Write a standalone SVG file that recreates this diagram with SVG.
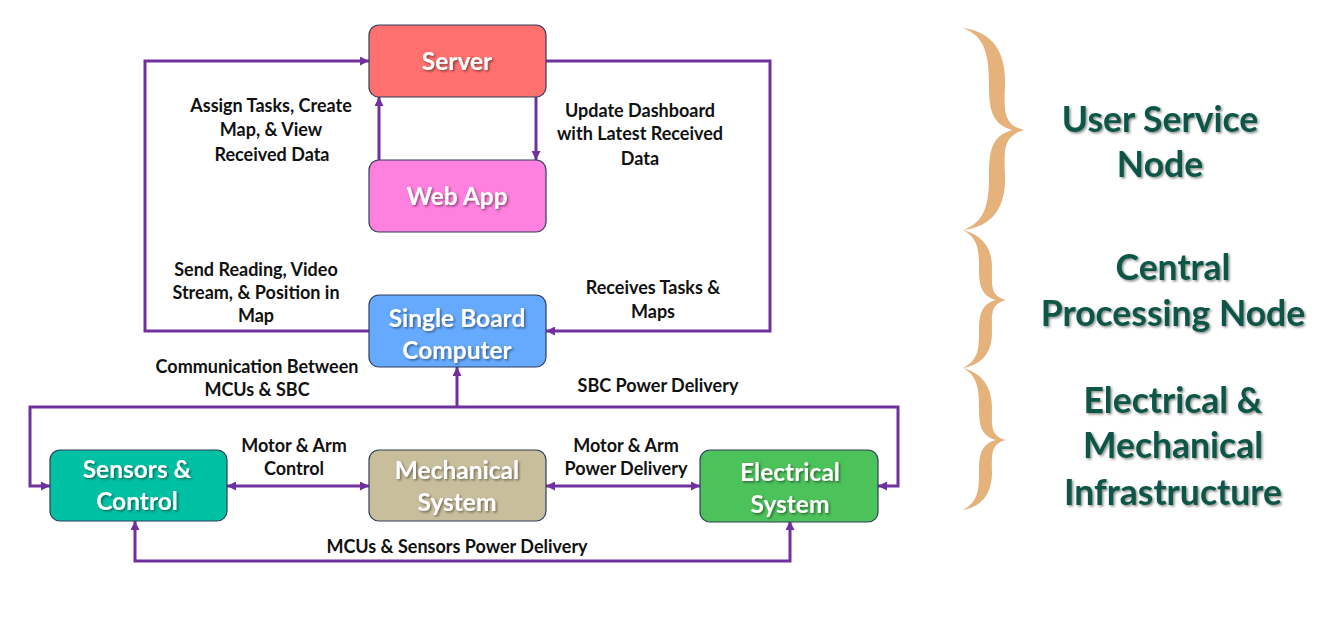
<svg xmlns="http://www.w3.org/2000/svg" width="1321" height="620" viewBox="0 0 1321 620">
<style>
.box{stroke:#2E3F5C;stroke-width:1.2}
.bt{font-family:Lato,"Open Sans",sans-serif;font-weight:bold;font-size:24.5px;fill:#fff;text-anchor:middle}
.lb{font-family:Lato,"Open Sans",sans-serif;font-weight:bold;font-size:18px;fill:#111;text-anchor:middle}
.side{font-family:Lato,"Open Sans",sans-serif;font-weight:bold;font-size:35.5px;fill:#0D5446;text-anchor:middle}
.cn{fill:none;stroke:#7030A0;stroke-width:3}
.brace{fill:#E6B27C}
</style>
<defs>
<marker id="ah" viewBox="0 0 10 10" refX="10" refY="5" markerWidth="9" markerHeight="9" markerUnits="userSpaceOnUse" orient="auto-start-reverse">
<path d="M0,0 L10,5 L0,10 Z" fill="#7030A0"/>
</marker>
<filter id="sh" x="-10%" y="-20%" width="130%" height="150%">
<feDropShadow dx="1.5" dy="1.5" stdDeviation="1" flood-color="#000" flood-opacity="0.45"/>
</filter>
</defs>
<rect width="1321" height="620" fill="#fff"/>

<g id="connectors">
<path class="cn" d="M379,160 L379,97" marker-end="url(#ah)"/>
<path class="cn" d="M536,97 L536,160" marker-end="url(#ah)"/>
<path class="cn" d="M369,331 L145,331 L145,61 L369,61" marker-end="url(#ah)"/>
<path class="cn" d="M546,61 L770,61 L770,331 L546,331" marker-end="url(#ah)"/>
<path class="cn" d="M457,407 L457,367" marker-end="url(#ah)"/>
<path class="cn" d="M457,407 L30,407 L30,486 L50,486" marker-end="url(#ah)"/>
<path class="cn" d="M457,407 L898,407 L898,486 L878,486" marker-end="url(#ah)"/>
<path class="cn" d="M227,486 L369,486" marker-start="url(#ah)" marker-end="url(#ah)"/>
<path class="cn" d="M546,486 L700,486" marker-start="url(#ah)" marker-end="url(#ah)"/>
<path class="cn" d="M135,521 L135,561 L790,561 L790,521" marker-start="url(#ah)" marker-end="url(#ah)"/>
</g>

<g id="labels">
<text class="lb" x="271" y="112">Assign Tasks, Create</text>
<text class="lb" x="271" y="136">Map, &amp; View</text>
<text class="lb" x="272" y="161">Received Data</text>
<text class="lb" x="640" y="117">Update Dashboard</text>
<text class="lb" x="640" y="140">with Latest Received</text>
<text class="lb" x="640" y="165">Data</text>
<text class="lb" x="256" y="276">Send Reading, Video</text>
<text class="lb" x="256" y="299">Stream, &amp; Position in</text>
<text class="lb" x="256" y="322">Map</text>
<text class="lb" x="653" y="294">Receives Tasks &amp;</text>
<text class="lb" x="653" y="318">Maps</text>
<text class="lb" x="257" y="373">Communication Between</text>
<text class="lb" x="257" y="396">MCUs &amp; SBC</text>
<text class="lb" x="658" y="392">SBC Power Delivery</text>
<text class="lb" x="294" y="452">Motor &amp; Arm</text>
<text class="lb" x="294" y="475">Control</text>
<text class="lb" x="626" y="452">Motor &amp; Arm</text>
<text class="lb" x="626" y="475">Power Delivery</text>
<text class="lb" x="457" y="553">MCUs &amp; Sensors Power Delivery</text>
</g>

<g id="server">
<rect class="box" x="369" y="25" width="177" height="72" rx="10" fill="#FF706E"/>
<text class="bt" x="457" y="70" filter="url(#sh)">Server</text>
</g>
<g id="webapp">
<rect class="box" x="369" y="160" width="177" height="72" rx="10" fill="#FF80DF"/>
<text class="bt" x="457" y="205" filter="url(#sh)">Web App</text>
</g>
<g id="sbc">
<rect class="box" x="369" y="295" width="177" height="72" rx="10" fill="#66AAFF"/>
<text class="bt" x="457" y="327" filter="url(#sh)">Single Board</text>
<text class="bt" x="457" y="359" filter="url(#sh)">Computer</text>
</g>
<g id="sensors">
<rect class="box" x="50" y="450" width="177" height="71" rx="10" fill="#00C0A3"/>
<text class="bt" x="137" y="478" filter="url(#sh)">Sensors &amp;</text>
<text class="bt" x="137" y="510" filter="url(#sh)">Control</text>
</g>
<g id="mechanical">
<rect class="box" x="369" y="450" width="177" height="71" rx="10" fill="#C9BE9C"/>
<text class="bt" x="457" y="479" filter="url(#sh)">Mechanical</text>
<text class="bt" x="457" y="511" filter="url(#sh)">System</text>
</g>
<g id="electrical">
<rect class="box" x="700" y="450" width="178" height="72" rx="10" fill="#4CC25A"/>
<text class="bt" x="790" y="481" filter="url(#sh)">Electrical</text>
<text class="bt" x="790" y="513" filter="url(#sh)">System</text>
</g>

<g id="braces">
<path class="brace" d="M963,28 C995,32 1006,55 1005,85 C1004,110 1003,125 1024,130 C1003,136 1004,150 1005,175 C1006,205 995,226 963,230 C985,222 989,205 989,175 C989,150 992,136 1012,130 C992,124 989,110 989,85 C989,55 985,36 963,28 Z"/>
<path class="brace" d="M963,230 C985,236 992,250 992,268 C992,285 990,296 1006,300 C990,304 992,315 992,332 C992,350 985,364 963,368 C978,360 979,350 979,332 C979,315 981,304 996,300 C981,296 979,285 979,268 C979,250 978,238 963,230 Z"/>
<path class="brace" transform="translate(0,140)" d="M963,228 C985,234 992,250 992,268 C992,285 990,296 1006,300 C990,304 992,315 992,332 C992,350 985,366 963,370 C978,362 979,350 979,332 C979,315 981,304 996,300 C981,296 979,285 979,268 C979,250 978,236 963,228 Z"/>
</g>

<g id="tiers" filter="url(#sh)">
<text class="side" x="1160" y="132">User Service</text>
<text class="side" x="1160" y="177">Node</text>
<text class="side" x="1173" y="280">Central</text>
<text class="side" x="1173" y="326">Processing Node</text>
<text class="side" x="1173" y="413">Electrical &amp;</text>
<text class="side" x="1173" y="458">Mechanical</text>
<text class="side" x="1173" y="505">Infrastructure</text>
</g>
</svg>
